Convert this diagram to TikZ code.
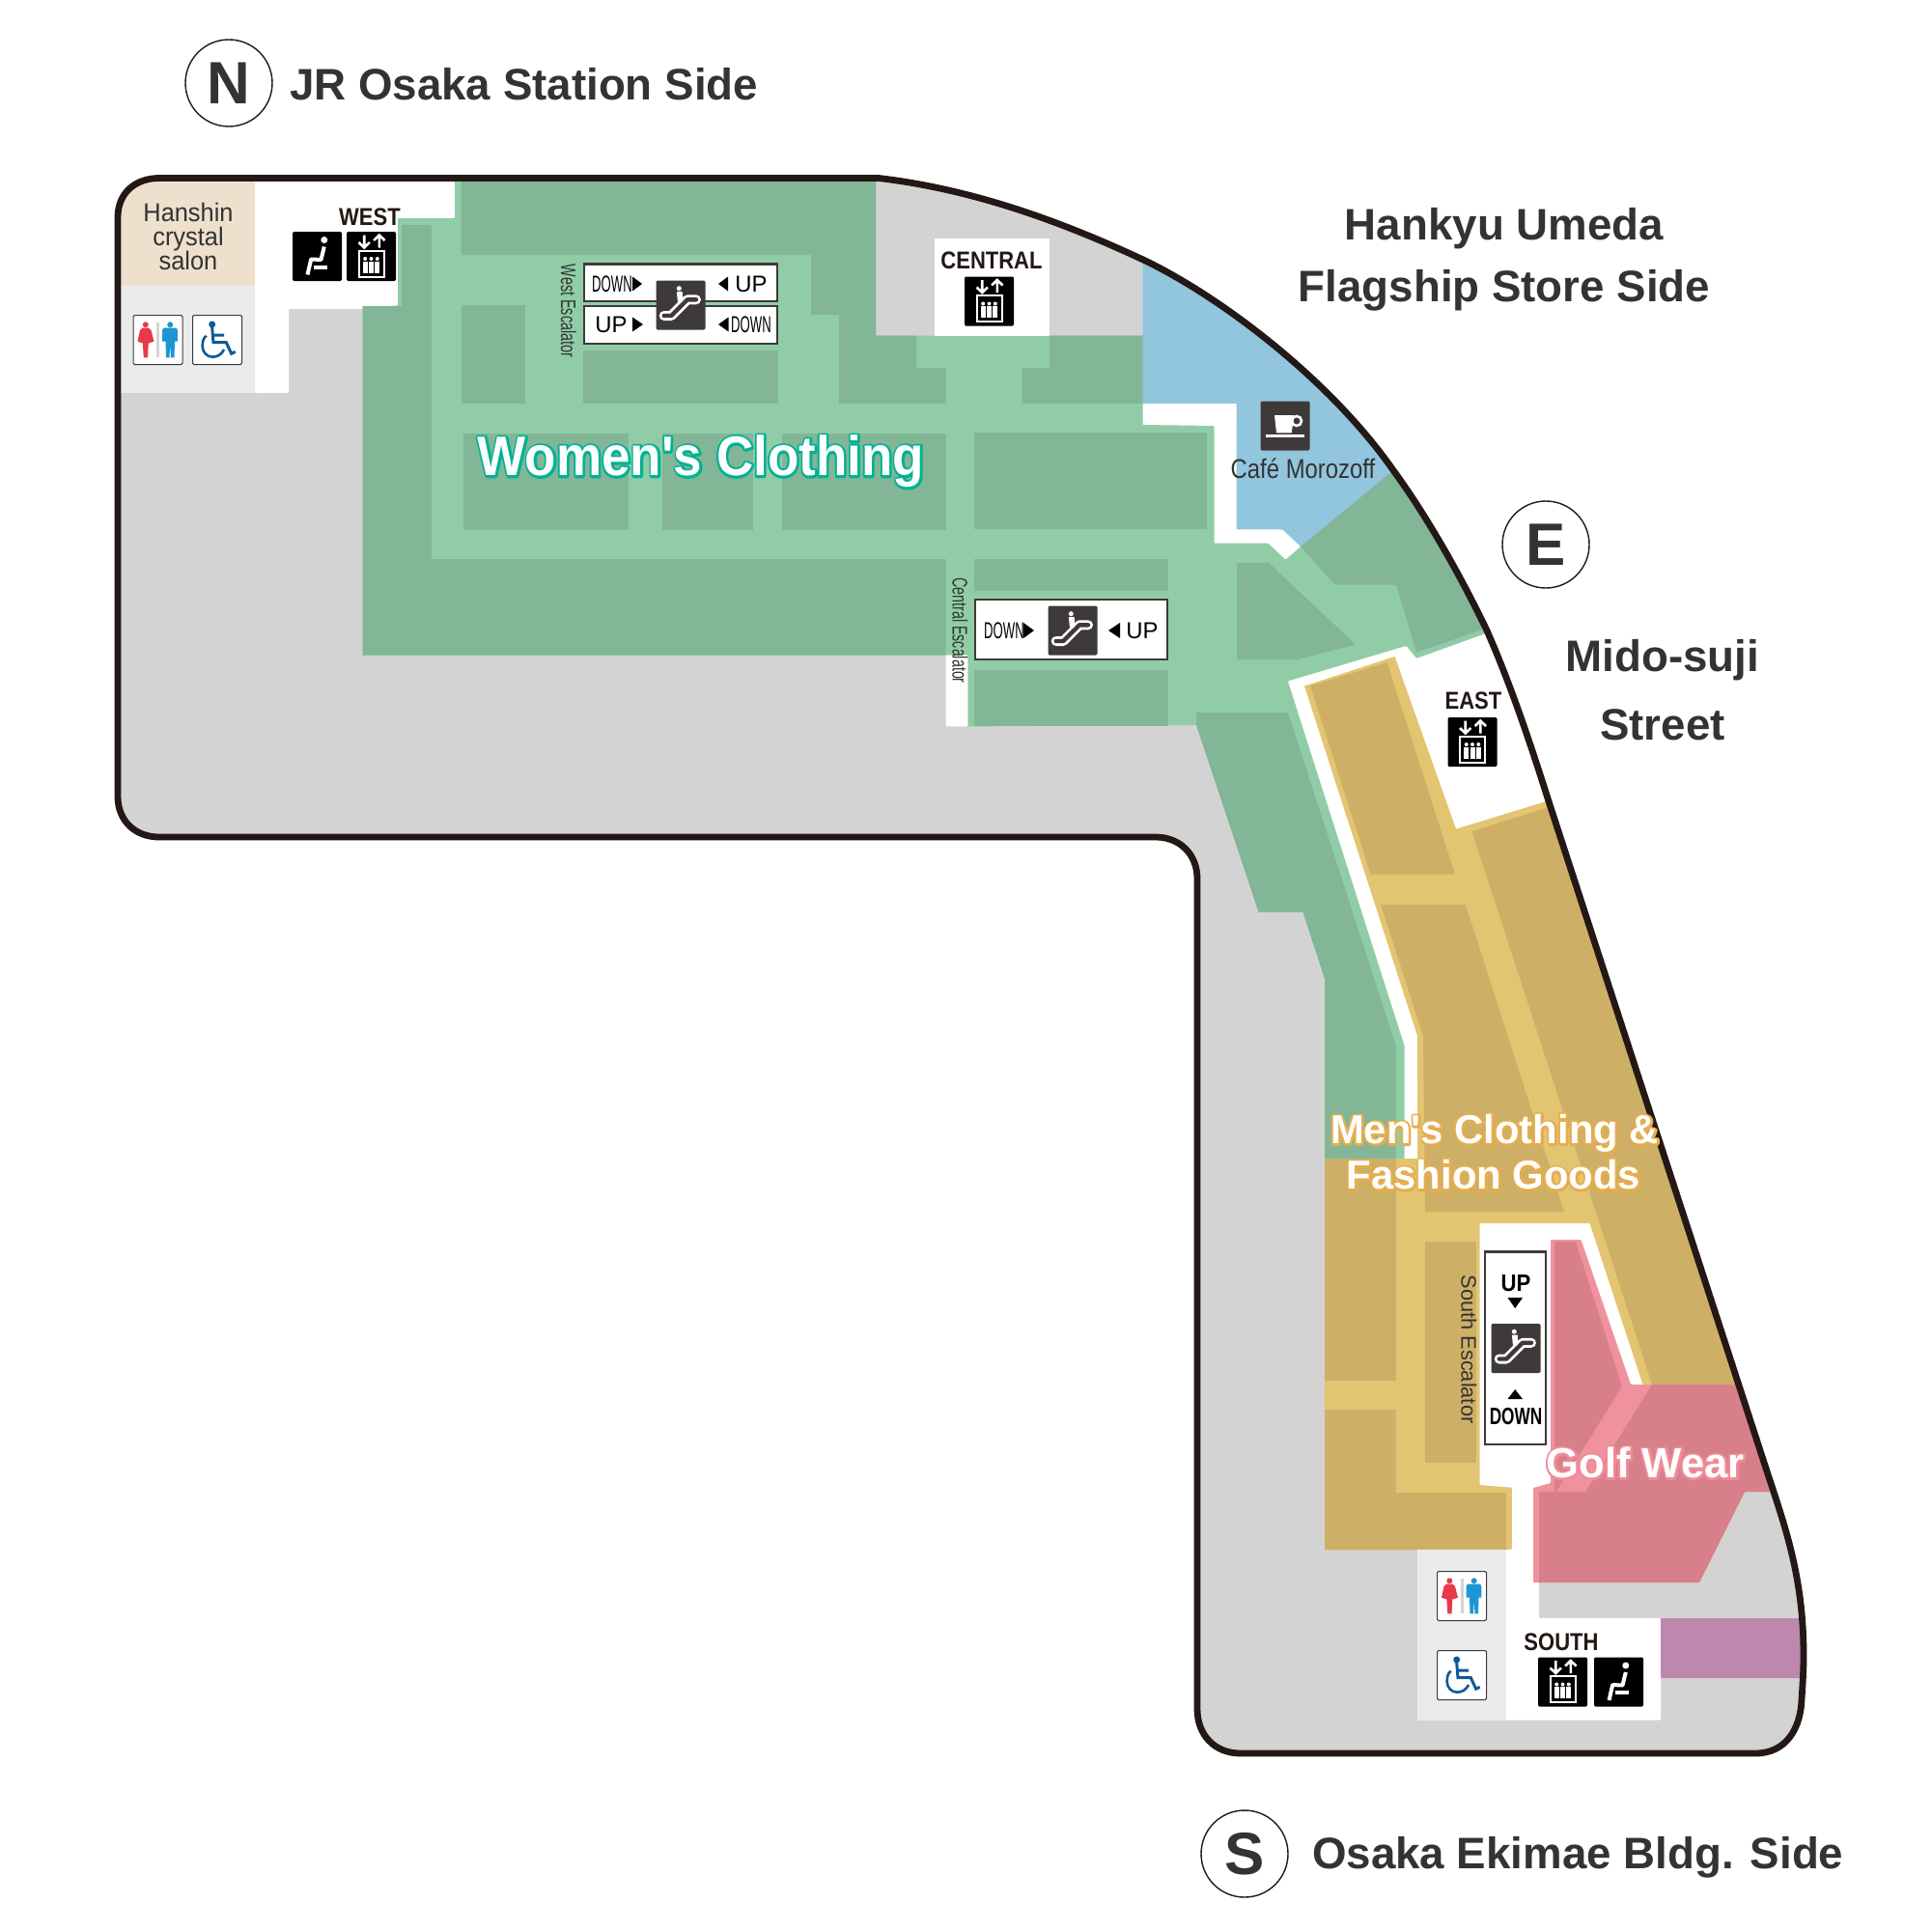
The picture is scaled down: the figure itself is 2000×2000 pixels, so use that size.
\documentclass[tikz,border=0pt]{standalone}
\usepackage{fontspec}
\setmainfont{Liberation Sans}
\usetikzlibrary{positioning}
\definecolor{floorgray}{RGB}{211,211,211}
\definecolor{inkline}{RGB}{35,24,21}
\definecolor{inktext}{RGB}{51,51,51}
\definecolor{icondark}{RGB}{62,58,57}
\definecolor{greendark}{RGB}{130,182,151}
\definecolor{greenlight}{RGB}{144,205,166}
\definecolor{tandark}{RGB}{205,176,102}
\definecolor{tanlight}{RGB}{227,197,113}
\definecolor{pinkdark}{RGB}{216,128,138}
\definecolor{pinklight}{RGB}{240,146,158}
\definecolor{cafeblue}{RGB}{146,197,222}
\definecolor{salonbeige}{RGB}{239,224,206}
\definecolor{paleroom}{RGB}{234,236,236}
\definecolor{shopviolet}{RGB}{188,136,174}
\definecolor{ladyred}{RGB}{232,57,74}
\definecolor{manblue}{RGB}{28,150,210}
\definecolor{chairblue}{RGB}{14,90,150}
% outline under the white letters
\newcommand{\strokedtext}[3]{\rlap{\special{pdf:code 2 Tr #2 w 1 j #1 RG #1 rg}#3\special{pdf:code 0 Tr 1 w 0 j 0 0 0 RG 1 1 1 rg}}#3}
\newcommand{\floorpath}{(122,225) .. controls (122,200) and (140,184.5) .. (165,184.5) -- (910,184.5) .. controls (1000,195) and (1090,225) .. (1184,269) .. controls (1260,305) and (1375,390) .. (1443,487) .. controls (1478,535) and (1512,595) .. (1540,653) .. controls (1565,710) and (1585,770) .. (1604,830) -- (1833,1533) .. controls (1852,1590) and (1868,1640) .. (1868,1715) .. controls (1868,1730) and (1867,1745) .. (1866,1760) .. controls (1865,1790) and (1850,1816) .. (1818,1816) -- (1285,1816) .. controls (1258,1816) and (1240,1797) .. (1240,1770) -- (1240,910) .. controls (1240,885) and (1222,867) .. (1197,867) -- (165,867) .. controls (140,867) and (122,850) .. (122,825) -- cycle}
\tikzstyle{Floor}=[fill=floorgray]
\tikzstyle{Greendark}=[fill=greendark]
\tikzstyle{Greenlight}=[fill=greenlight]
\tikzstyle{Tandark}=[fill=tandark]
\tikzstyle{Pinkdark}=[fill=pinkdark]
\tikzstyle{Clear}=[fill=white,rounded corners=1.5pt]
\tikzstyle{Signbox}=[fill=white,draw=icondark,line width=0.14cm]
\tikzstyle{Signmark}=[fill=black]
\tikzstyle{Side}=[inner sep=0pt,text=inktext,font=\bfseries\fontsize{65}{65}\selectfont]
\tikzstyle{Compass}=[circle,draw=inkline,line width=0.07cm,minimum size=4.5cm,inner sep=0pt,text=inktext,font=\bfseries\fontsize{88}{88}\selectfont]
\tikzstyle{Lobby}=[inner sep=0pt,text=inkline,xscale=0.87,font=\bfseries\fontsize{36}{36}\selectfont]
\tikzstyle{Roomname}=[inner sep=0pt,text=inktext,align=center,font=\fontsize{38}{36}\selectfont]
\tikzstyle{Escname}=[inner sep=0pt,text=inktext,font=\fontsize{31}{31}\selectfont]
\tikzstyle{Signtext}=[inner sep=0pt,text=black,font=\fontsize{34}{34}\selectfont]
\tikzstyle{Signbold}=[inner sep=0pt,text=black,font=\bfseries\fontsize{35}{35}\selectfont]
\tikzstyle{Zone}=[inner sep=0pt,text=white,font=\bfseries\fontsize{59.5}{60}\selectfont]
\tikzset{
 elevicon/.pic={
  \fill[black,rounded corners=2pt] (-25.5,-25.5) rectangle (25.5,25.5);
  \draw[white,line width=0.1cm] (-13,-5.7) rectangle (13,21);
  \draw[white,line width=0.13cm] (-7.3,-22) -- (-7.3,-9) (-13,-14.5) -- (-7.3,-9) -- (-1.6,-14.5);
  \draw[white,line width=0.13cm] (8.3,-9) -- (8.3,-22) (2.6,-16.5) -- (8.3,-22) -- (14,-16.5);
  \foreach \px in {-6.3,0,6.3}{
   \fill[white] (\px,2.5) circle[radius=2];
   \fill[white] (\px-2.5,5) rectangle (\px+2.5,17);
  }
 },
 seaticon/.pic={
  \fill[black,rounded corners=2pt] (-25.5,-25.5) rectangle (25.5,25.5);
  \fill[white] (7.3,-17) circle[radius=3.5];
  \draw[white,line width=0.2cm,line join=round] (7.3,-10) -- (4,3.5) -- (-6.3,3) -- (-10,19);
  \draw[white,line width=0.2cm] (-4,11) -- (10,11);
 },
 escicon/.pic={
  \fill[icondark,rounded corners=2pt] (-25.5,-25.5) rectangle (25.5,25.5);
  \draw[white,line width=0.5cm,line cap=round,line join=round] (-17.3,11) -- (-9.7,11) -- (7,-5.7) -- (16,-5.7);
  \draw[icondark,line width=0.22cm,line cap=round,line join=round] (-17.3,11) -- (-9.7,11) -- (7,-5.7) -- (16,-5.7);
  \fill[white] (-1.7,-17.3) circle[radius=2.5];
  \fill[white,rounded corners=1pt] (-4.2,-14) -- (1.8,-14) -- (1.8,-3) -- (-3,-3) -- cycle;
 },
 cupicon/.pic={
  \fill[icondark,rounded corners=2pt] (-25.5,-25.5) rectangle (25.5,25.5);
  \draw[white,line width=0.13cm] (12,-5) circle[radius=5];
  \fill[white] (-11,-11) -- (9.3,-11) -- (6.7,7.3) -- (-9,7.3) -- cycle;
  \draw[white,line width=0.16cm] (-20,10.7) -- (20,10.7);
 },
 restroomicon/.pic={
  \draw[fill=white,draw=icondark,line width=0.05cm,rounded corners=2pt] (-25.5,-25.5) rectangle (25.5,25.5);
  \fill[ladyred] (-12.7,-15.7) circle[radius=3];
  \fill[ladyred] (-16,-12.5) -- (-9.5,-12.5) -- (-7,-10) -- (-4,1.7) -- (-9.7,3.5) -- (-10.5,18.3) -- (-14.7,18.3) -- (-15.7,3.5) -- (-21,1.7) -- (-18.5,-10) -- cycle;
  \draw[floorgray,line width=0.15cm] (0,-17.7) -- (0,18.3);
  \fill[manblue] (12.7,-15.7) circle[radius=3];
  \fill[manblue] (6,-12.5) -- (19,-12.5) -- (20.3,-10) -- (20.3,1.7) -- (17.5,1.7) -- (17,18.3) -- (13.5,18.3) -- (12.7,5) -- (12,18.3) -- (8.5,18.3) -- (8,1.7) -- (4.7,1.7) -- (4.7,-10) -- cycle;
 },
 chairicon/.pic={
  \draw[fill=white,draw=icondark,line width=0.05cm,rounded corners=2pt] (-25.5,-25.5) rectangle (25.5,25.5);
  \fill[chairblue] (-5.3,-16) circle[radius=3.5];
  \draw[chairblue,line width=0.15cm] (-5.3,-13) -- (-4,2.7) -- (9.3,2.7) -- (14.7,14.3) -- (18.7,12.3) (-4,-5) -- (7,-5);
  \draw[chairblue,line width=0.13cm] (-11.3,-4.3) .. controls (-14.5,-2) and (-15.3,2) .. (-15.3,6.7) .. controls (-15.3,13) and (-10.5,17.7) .. (-4.7,17.7) .. controls (0.5,17.7) and (5,14.5) .. (7,10);
 }
}
\begin{document}
\begin{tikzpicture}[x=0.05cm,y=-0.05cm]
\useasboundingbox (0,0) rectangle (2000,2000);

\fill[Floor] \floorpath;
\begin{scope}
\clip \floorpath;
% rooms at the west end
\fill[salonbeige] (100,170) rectangle (264,296);
\fill[paleroom] (100,296) rectangle (264,407);
\fill[Clear] (264,170) -- (471,170) -- (471,226) -- (412,226) -- (412,316) -- (377,320) -- (299,320) -- (299,407) -- (264,407) -- cycle;

% women's floor
\fill[Greenlight] (471,170) -- (907,170) -- (907,347.5) -- (1184,347.5) -- (1184,440) -- (1330,440) -- (1441,488) -- (1650,640) -- (1650,750) -- (1454,1200) -- (1372,1200) -- (1372,1013.6) -- (1349.5,944.7) -- (1303.6,944.7) -- (1239,751) -- (1002.4,752.4) -- (1002.4,678.6) -- (375.5,678.6) -- (375.5,317) -- (412,317) -- (412,226) -- (471,226) -- cycle;
\fill[Greendark] (477.5,170) -- (907,170) -- (907,347.5) -- (949,347.5) -- (949,381) -- (979.5,381) -- (979.5,418) -- (869,418) -- (869,326) -- (840,326) -- (840,264) -- (477.5,264) -- cycle;
\fill[Greendark] (375.5,317) -- (416,317) -- (416,233) -- (447,233) -- (447,579) -- (979.5,579) -- (979.5,678.6) -- (375.5,678.6) -- cycle;
\fill[Greendark] (1087,347.5) -- (1184,347.5) -- (1184,418) -- (1058.6,418) -- (1058.6,381) -- (1087,381) -- cycle;
\fill[Greendark] (477.5,316) rectangle (544,417.6);
\fill[Greendark] (604,363) rectangle (806,417.6);
\fill[Greendark] (480,449) rectangle (651,549);
\fill[Greendark] (686,449) rectangle (780,549);
\fill[Greendark] (810,449) rectangle (979.5,549);
\fill[Greendark] (1009,448) rectangle (1250,548.4);
\fill[Greendark] (1009,579) rectangle (1210,612);
\fill[Greendark] (1009,693.5) rectangle (1210,752.4);
\fill[Greendark] (1281,583) -- (1314,583) -- (1404,667.6) -- (1344,683) -- (1281,683) -- cycle;
\fill[Greendark] (1443,487) -- (1347,566) -- (1382.5,605.5) -- (1446,605.5) -- (1467,675.6) -- (1600,630) -- (1600,500) -- cycle;
\fill[Greendark] (1239,738) -- (1334,738) -- (1445.5,1082.5) -- (1445.5,1200) -- (1372,1200) -- (1372,1013.6) -- (1349.5,944.7) -- (1303.6,944.7) -- (1239,751) -- cycle;
\fill[Clear] (979.5,678.6) rectangle (1002.4,752.4);

% cafe and central lift
\fill[white] (968,247) rectangle (1087,347.5);
\fill[cafeblue] (1183.6,200) -- (1550,200) -- (1550,400) -- (1443,487) -- (1347,566) -- (1280.5,548.4) -- (1280.5,418) -- (1183.6,418) -- cycle;
\fill[Clear] (1183.6,418) -- (1280.5,418) -- (1280.5,548.4) -- (1328,548.4) -- (1347,566) -- (1331.5,579.6) -- (1313.7,562.7) -- (1257.6,562.7) -- (1257.6,441) -- (1183.6,440) -- cycle;

% men's floor
\fill[Clear] (1334,705.5) -- (1456.5,669) -- (1467,682) -- (1570,645) -- (1700,830) -- (1600,1000) -- (1473.7,1200) -- (1454.5,1200) -- (1454.5,1082.5) -- cycle;
\fill[tanlight] (1351,710.5) -- (1444.6,680) -- (1508,858.6) -- (1599.5,830.6) -- (1700,800) -- (1900,1433.5) -- (1700,1433.5) -- (1646.4,1268) -- (1532.6,1267) -- (1532.6,1538) -- (1566,1540.6) -- (1566,1605.4) -- (1372,1605.4) -- (1372,1200) -- (1468,1200) -- (1468,1073) -- cycle;
\fill[Tandark] (1357,710.5) -- (1436.6,686) -- (1507,905.6) -- (1419.6,905.6) -- cycle;
\fill[Tandark] (1524.5,861) -- (1599.5,837.5) -- (1700,806) -- (1900,1434) -- (1711,1434) -- cycle;
\fill[Tandark] (1430,937) -- (1518,937) -- (1620,1255) -- (1476,1255) -- (1474,1073) -- cycle;
\fill[Tandark] (1372,1200) rectangle (1445.5,1430);
\fill[Tandark] (1372,1460) -- (1445.5,1460) -- (1445.5,1546) -- (1560,1546) -- (1560,1605) -- (1372,1605) -- cycle;
\fill[Tandark] (1476,1286) rectangle (1529,1515);

% south end
\fill[paleroom] (1468,1605.4) rectangle (1559.4,1781.7);
\fill[Clear] (1532.6,1267) -- (1646.4,1267) -- (1702,1436) -- (1640,1540) -- (1588,1541) -- (1588,1639) -- (1594,1639) -- (1594,1676) -- (1720,1676) -- (1720,1781.7) -- (1559.4,1781.7) -- (1559.4,1605) -- (1566,1605) -- (1566,1540.6) -- (1532.6,1538) -- cycle;
\fill[shopviolet,rounded corners=1.5pt] (1720,1676) rectangle (1900,1738);
\fill[pinklight,rounded corners=1.5pt] (1606,1284) -- (1637.5,1284) -- (1689,1434) -- (1900,1434) -- (1900,1545) -- (1807,1545) -- (1760,1639) -- (1588,1639) -- (1588,1541) -- (1606,1536) -- cycle;
\fill[Pinkdark] (1610,1286) -- (1632,1286) -- (1680,1436) -- (1612,1545) -- (1610,1545) -- cycle;
\fill[Pinkdark] (1594,1545) -- (1642,1545) -- (1711,1434) -- (1900,1434) -- (1900,1545) -- (1807,1545) -- (1760,1639) -- (1594,1639) -- cycle;
\end{scope}
\draw[inkline,line width=0.34cm] \floorpath;

% escalator signs
\draw[Signbox] (605,273.7) rectangle (805,312);
\draw[Signbox] (605,317) rectangle (805,356);
\draw[Signbox] (1010,621) rectangle (1209,683);
\draw[Signbox] (1538,1296.4) rectangle (1601,1496);

\pic at (705,316) {escicon};
\pic at (1111,653) {escicon};
\pic at (1570,1396.5) {escicon};
\pic at (384.5,265.5) {elevicon};
\pic at (328.5,265.5) {seaticon};
\pic at (1024.5,312) {elevicon};
\pic at (1525,768.5) {elevicon};
\pic at (1618.5,1742) {elevicon};
\pic at (1676.5,1742) {seaticon};
\pic at (163.5,352) {restroomicon};
\pic at (225,352) {chairicon};
\pic at (1514,1653) {restroomicon};
\pic at (1514,1735) {chairicon};
\pic at (1331,441) {cupicon};

\fill[Signmark] (655,286.5) -- (665,294) -- (655,301.5) -- cycle;
\fill[Signmark] (754,286.5) -- (744,294) -- (754,301.5) -- cycle;
\fill[Signmark] (655,328.5) -- (666,336) -- (655,343.5) -- cycle;
\fill[Signmark] (754.5,328.5) -- (744,336) -- (754.5,343.5) -- cycle;
\fill[Signmark] (1060,645) -- (1071,653) -- (1060,661) -- cycle;
\fill[Signmark] (1160,645) -- (1148,653) -- (1160,661) -- cycle;
\fill[Signmark] (1561.5,1344) -- (1577,1344) -- (1569.2,1355) -- cycle;
\fill[Signmark] (1561.5,1449) -- (1577,1449) -- (1569.2,1439) -- cycle;

\node[Signtext,xscale=0.55] (wdownone) at (634,294) {DOWN};
\node[Signtext] (wupone) at (778,294) {UP};
\node[Signtext] (wuptwo) at (633,336) {UP};
\node[Signtext,xscale=0.55] (wdowntwo) at (778,336) {DOWN};
\node[Signtext,xscale=0.55] (cdown) at (1040,653) {DOWN};
\node[Signtext] (cup) at (1183,653) {UP};
\node[Signbold,xscale=0.9] (sup) at (1570,1329) {UP};
\node[Signbold,xscale=0.7] (sdown) at (1570,1467) {DOWN};

\node[Escname,rotate=-90,xscale=0.66] (westesc) at (589,322) {West Escalator};
\node[Escname,rotate=-90,xscale=0.655] (centralesc) at (994.5,653) {Central Escalator};
\node[Escname,rotate=-90,xscale=1] (southesc) at (1521.5,1397.5) {South Escalator};

\node[Lobby] (west) at (383,225) {WEST};
\node[Lobby] (central) at (1027,270) {CENTRAL};
\node[Lobby] (east) at (1526,726) {EAST};
\node[Lobby] (south) at (1617,1701) {SOUTH};

\node[Roomname,xscale=0.95] (salon) at (195,245) {Hanshin\\crystal\\salon};
\node[Roomname,xscale=0.85,font=\fontsize{40}{40}\selectfont] (cafe) at (1349.5,485) {Café Morozoff};

\node[Zone,xscale=0.92,font=\bfseries\fontsize{82}{82}\selectfont] (women) at (726,478) {\strokedtext{0 0.7 0.58}{7}{Women\textquotesingle s Clothing}};
\node[Zone] (menone) at (1548,1174) {\strokedtext{0.9 0.68 0.31}{6.5}{Men\textquotesingle s Clothing \&}};
\node[Zone] (mentwo) at (1547,1217) {\strokedtext{0.9 0.68 0.31}{6.5}{Fashion Goods}};
\node[Zone,font=\bfseries\fontsize{62}{62}\selectfont] (golf) at (1704,1515) {\strokedtext{0.94 0.55 0.6}{6.5}{Golf Wear}};

\node[Compass] (northmark) at (237,86) {N};
\node[Compass] (eastmark) at (1601,564) {E};
\node[Compass] (southmark) at (1289,1920) {S};
\node[Side,anchor=west] (jrside) at (300,87) {JR Osaka Station Side};
\node[Side] (hankyuone) at (1558,236.5) {Hankyu Umeda};
\node[Side] (hankyutwo) at (1558,301) {Flagship Store Side};
\node[Side] (midoone) at (1722,684) {Mido-suji};
\node[Side] (midotwo) at (1722,751) {Street};
\node[Side,anchor=west] (ekimae) at (1359,1924) {Osaka Ekimae Bldg. Side};
\end{tikzpicture}
\end{document}
